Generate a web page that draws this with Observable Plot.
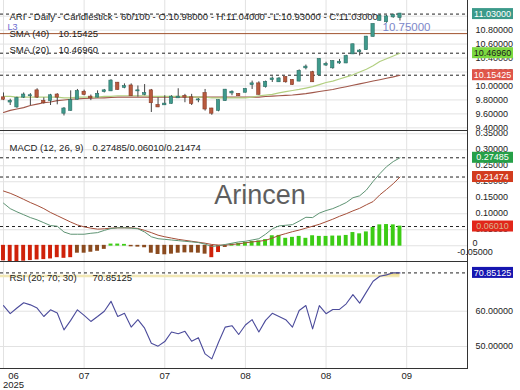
<!DOCTYPE html>
<html><head><meta charset="utf-8">
<script src="https://cdn.jsdelivr.net/npm/d3@7"></script>
<script src="https://cdn.jsdelivr.net/npm/@observablehq/plot@0.6"></script>
<style>
html,body{margin:0;padding:0;background:#fff;}
#chart{position:relative;width:520px;height:390px;overflow:hidden;}
#chart svg{display:block;overflow:hidden;}
</style></head><body><div id="chart"></div>
<script>
const FONT = "'Liberation Sans', Arial, Helvetica, sans-serif";

// ---- data ----
const header = "ARI - Daily - Candlestick - 60/100 - O:10.98000 - H:11.04000 - L:10.93000 - C:11.03000";
const open = [9.83,9.77,9.70,9.84,9.86,9.93,9.78,9.79,9.87,9.61,
 9.65,9.81,9.91,9.84,9.84,9.92,9.93,10.04,9.98,10.00,
 9.93,9.88,9.93,9.72,9.73,9.75,9.83,9.85,9.83,9.80,
 9.89,9.67,9.65,9.79,9.90,9.88,9.91,10.02,10.03,9.99,
 10.09,10.06,10.12,10.08,10.07,10.26,10.19,10.16,10.30,10.26,
 10.33,10.33,10.46,10.49,10.52,10.71,10.94,10.92,10.99,10.98];
const close = [9.81,9.78,9.82,9.87,9.86,9.84,9.76,9.86,9.84,9.67,
 9.79,9.92,9.88,9.83,9.88,9.93,10.07,9.95,9.99,9.86,
 9.93,9.89,9.76,9.70,9.74,9.84,9.84,9.84,9.75,9.80,
 9.67,9.61,9.79,9.94,9.91,9.86,9.95,10.03,9.88,10.05,
 10.10,10.10,10.06,10.02,10.21,10.27,10.06,10.38,10.31,10.35,
 10.34,10.42,10.59,10.50,10.70,10.88,11.00,10.99,11.01,11.03];
const high = [9.90,9.81,9.84,9.90,9.89,9.96,9.83,9.88,9.89,9.69,
 9.93,9.95,9.94,9.87,9.93,9.95,10.09,10.05,10.03,10.03,
 10.00,10.02,9.95,9.83,9.86,9.86,9.96,9.88,9.88,9.82,
 9.95,9.68,9.80,9.95,9.93,9.89,9.96,10.07,10.06,10.07,
 10.13,10.12,10.13,10.09,10.23,10.30,10.21,10.39,10.34,10.36,
 10.38,10.44,10.60,10.52,10.71,10.89,11.02,11.01,11.03,11.04];
const low = [9.79,9.72,9.68,9.82,9.72,9.82,9.74,9.72,9.73,9.57,
 9.64,9.80,9.86,9.79,9.83,9.90,9.92,9.94,9.96,9.85,
 9.84,9.86,9.62,9.69,9.72,9.74,9.82,9.76,9.72,9.76,
 9.64,9.58,9.63,9.78,9.86,9.85,9.90,9.95,9.87,9.97,
 10.05,10.05,10.04,10.01,10.06,10.23,10.05,10.15,10.28,10.24,
 10.31,10.32,10.45,10.43,10.51,10.70,10.93,10.90,10.97,10.93];
const sma20 = [9.85,9.85,9.84,9.84,9.84,9.84,9.84,9.84,9.84,9.83,
 9.83,9.84,9.84,9.84,9.84,9.85,9.85,9.86,9.86,9.86,
 9.86,9.86,9.85,9.85,9.85,9.85,9.85,9.85,9.84,9.84,
 9.84,9.83,9.83,9.83,9.83,9.83,9.83,9.84,9.86,9.87,
 9.88,9.90,9.92,9.935,9.95,9.97,9.99,10.02,10.05,10.07,
 10.10,10.13,10.16,10.20,10.24,10.29,10.35,10.39,10.43,10.4696];
const sma40 = [9.62,9.65,9.67,9.69,9.72,9.74,9.76,9.77,9.79,9.80,
 9.81,9.815,9.82,9.825,9.83,9.83,9.835,9.84,9.84,9.84,
 9.84,9.84,9.84,9.84,9.84,9.84,9.84,9.84,9.84,9.84,
 9.84,9.84,9.84,9.84,9.84,9.84,9.84,9.84,9.84,9.85,
 9.855,9.86,9.865,9.87,9.88,9.89,9.905,9.92,9.935,9.95,
 9.97,9.99,10.01,10.03,10.05,10.07,10.09,10.11,10.13,10.15425];
const lineL3 = 10.75;

const macdLine = [0.133,0.116,0.106,0.097,0.088,0.081,0.072,0.063,0.061,0.043,0.036,
 0.036,0.036,0.039,0.041,0.048,0.054,0.056,0.056,
 0.055,0.053,0.043,0.028,0.022,0.020,0.018,0.016,0.014,0.012,0.010,0.005,
 -0.002,0.000,0.004,
 0.008,0.012,0.014,0.018,0.022,0.036,0.053,0.062,0.064,0.066,0.077,0.089,0.088,0.102,0.110,0.116,
 0.125,0.135,0.150,0.156,0.174,0.201,0.225,0.247,0.263,0.27485];
const signalLine = [0.171,0.164,0.155,0.145,0.135,0.126,0.116,0.104,0.094,0.084,0.074,
 0.065,0.059,0.055,0.052,0.053,0.055,0.056,0.056,
 0.056,0.054,0.048,0.041,0.033,0.028,0.024,0.020,0.017,0.014,0.011,0.008,
 0.004,0.002,0.002,
 0.004,0.006,0.009,0.012,0.014,0.017,0.024,0.032,0.038,0.044,0.049,0.055,0.061,0.067,0.075,0.083,
 0.092,0.100,0.109,0.117,0.128,0.138,0.159,0.176,0.194,0.21474];
const histogram = [-0.046,-0.049,-0.050,-0.047,-0.045,-0.043,-0.042,-0.040,-0.036,-0.038,-0.036,
 -0.022,-0.022,-0.019,-0.016,-0.010,0.004,0.004,0.003,
 -0.002,-0.003,-0.005,-0.022,-0.026,-0.027,-0.025,-0.022,-0.021,-0.021,-0.022,-0.025,
 -0.036,-0.020,-0.004,
 0.004,0.006,0.009,0.012,0.014,0.018,0.030,0.031,0.022,0.025,0.028,0.022,0.030,0.028,0.028,0.029,
 0.029,0.031,0.040,0.036,0.042,0.056,0.064,0.065,0.064,0.0601];
const histTone = ["r","r","r","r","r","r","r","r","r","r","r",
 "b","b","b","b","b","g","g","g",
 "b","b","b","b","b","b","b","b","b","b","b","b",
 "r","r","b",
 "g","g","g","g","g","g","g","g","g","g","g","g","g","g","g","g",
 "g","g","g","g","g","g","g","g","g","g"];
const macdLast = [0.27485, 0.06010, 0.21474];

const rsi = [61.6,59.3,60.9,62.4,61.8,60.9,58.5,60.4,59.5,54.7,57.4,
 60.4,58.8,57.1,58.5,60.0,62.8,58.5,59.4,55.5,57.6,55.2,50.9,50.1,51.4,54.1,53.6,54.3,51.5,52.5,47.9,46.5,51.2,55.5,55.9,53.4,56.1,57.6,54.1,
 57.4,59.4,58.5,57.6,55.5,60.2,61.6,55.0,61.6,59.3,60.5,60.5,62.1,64.7,62.3,65.4,68.5,69.9,70.3,70.9,70.85125];
const rsiLevel = 70;

const xTickIndex = [0, 12, 24, 36, 48, 60];
const xTickLabels = ["06\n2025", "07", "07", "08", "08", "09"];
const priceTicks = [9.4, 9.6, 9.8, 10.0, 10.2, 10.4, 10.6, 10.8, 11.0];
const macdTicks = [0.05, 0.10, 0.15, 0.20, 0.25, 0.30, 0.35];
const macdZeroTick = 0;
const macdLowTick = -0.05;
const rsiTicks = [50, 60];

// ---- build ----
const rows = open.map((o, i) => ({
  i, open: o, high: high[i], low: low[i], close: close[i],
  sma20: sma20[i], sma40: sma40[i],
  macd: macdLine[i], signal: signalLine[i], hist: histogram[i], tone: histTone[i],
  rsi: rsi[i]
}));
const XDOM = [-0.446, 69.05];
const GRID = "#e2e2e2";
const TXT = "#222";
const toneColor = {r: "#cf2109", b: "#8a4a1e", g: "#3ccc14"};

function common(height, marginBottom) {
  return {
    width: 520, height, marginTop: 0, marginBottom, marginLeft: 0, marginRight: 53,
    style: {background: "#fff", fontFamily: FONT, fontSize: "9px", color: TXT, overflow: "hidden"},
    x: {domain: XDOM, axis: null},
    color: {type: "identity"}
  };
}
const frame = () => Plot.frame({stroke: "#333", strokeWidth: 1, insetLeft: -3, insetTop: -3});
const yLabels = (ticks, fmt, dy = 0) =>
  Plot.text(ticks, {y: d => d, frameAnchor: "right", dx: 8, dy, textAnchor: "start", text: fmt, fontSize: 9, fill: TXT});

function rightEdge(svg) { return Math.max(...svg.scale("x").range); }

function addAxisText(svg, value, label, dy) {
  const y = svg.scale("y");
  d3.select(svg).append("text")
    .attr("x", rightEdge(svg) + 8).attr("y", y.apply(value) + dy).attr("dy", "0.32em")
    .attr("fill", TXT).attr("font-size", 9).attr("font-family", FONT).text(label);
}

function addBoxes(svg, boxes) {
  const y = svg.scale("y");
  const left = rightEdge(svg) + 5;
  const g = d3.select(svg).append("g");
  for (const b of boxes) {
    const cy = y.apply(b.value);
    g.append("rect").attr("x", left).attr("y", cy - 5.5).attr("width", 41).attr("height", 11).attr("fill", b.bg);
    g.append("text").attr("x", left + 20.5).attr("y", cy).attr("dy", "0.35em")
      .attr("text-anchor", "middle").attr("fill", b.fg).attr("font-size", 9)
      .attr("font-family", FONT).text(b.value.toFixed(5));
  }
}

const main = Plot.plot({
  ...common(131, 1),
  y: {domain: [9.362, 11.2246], axis: null},
  marks: [
    Plot.gridX(xTickIndex, {stroke: GRID, strokeOpacity: 1}),
    Plot.gridY(priceTicks, {stroke: GRID, strokeOpacity: 1}),
    Plot.ruleY([lineL3], {stroke: "#a0522d", strokeWidth: 1}),
    Plot.ruleY([close[close.length - 1], sma20[sma20.length - 1], sma40[sma40.length - 1]], {stroke: "#222", strokeDasharray: "3,3"}),
    Plot.line(rows, {x: "i", y: "sma40", stroke: "#a0574a", strokeWidth: 1.1}),
    Plot.line(rows, {x: "i", y: "sma20", stroke: "#b2cf80", strokeWidth: 1.2}),
    Plot.ruleX(rows, {x: "i", y1: "low", y2: "high", stroke: "#444", strokeWidth: 1}),
    Plot.rect(rows, {
      x1: d => d.i - 0.5, x2: d => d.i + 0.5, y1: "open", y2: "close",
      insetLeft: 1.7, insetRight: 1.7, insetTop: -0.5, insetBottom: -0.5,
      fill: d => d.close >= d.open ? "#3f9a8c" : "#b85a3e",
      stroke: d => d.close >= d.open ? "#2c6f66" : "#873a26", strokeWidth: 0.6
    }),
    yLabels(priceTicks, d => d.toFixed(5)),
    Plot.text([lineL3], {y: d => d, frameAnchor: "right", dx: -85, dy: -6.5, textAnchor: "start", text: d => d.toFixed(5), fill: "#7d87c9", fontSize: 11.5}),
    Plot.text([header], {frameAnchor: "top-left", dx: 9, dy: 12.5, textAnchor: "start", fontSize: 9.5, fill: TXT}),
    Plot.text(["L3"], {frameAnchor: "top-left", dx: 7, dy: 23, textAnchor: "start", fontSize: 9, fill: "#6b6bd0"}),
    Plot.text(["SMA (40)"], {frameAnchor: "top-left", dx: 9, dy: 30, textAnchor: "start", fontSize: 9.5, fill: TXT}),
    Plot.text([sma40[sma40.length - 1]], {frameAnchor: "top-left", dx: 58, dy: 30, textAnchor: "start", fontSize: 9.5, fill: TXT, text: d => d.toFixed(5)}),
    Plot.text(["SMA (20)"], {frameAnchor: "top-left", dx: 9, dy: 46, textAnchor: "start", fontSize: 9.5, fill: TXT}),
    Plot.text([sma20[sma20.length - 1]], {frameAnchor: "top-left", dx: 58, dy: 46, textAnchor: "start", fontSize: 9.5, fill: TXT, text: d => d.toFixed(5)}),
    frame()
  ]
});
addBoxes(main, [
  {value: close[close.length - 1], bg: "#3b9a8a", fg: "#fff"},
  {value: sma20[sma20.length - 1], bg: "#7cd940", fg: "#1a1a1a"},
  {value: sma40[sma40.length - 1], bg: "#df554a", fg: "#fff"}
]);

const macd = Plot.plot({
  ...common(131, 1),
  y: {domain: [-0.0492, 0.357], axis: null},
  marks: [
    Plot.gridX(xTickIndex, {stroke: GRID, strokeOpacity: 1}),
    Plot.gridY(macdTicks.concat([macdZeroTick]), {stroke: GRID, strokeOpacity: 1}),
    Plot.ruleY(macdLast, {stroke: "#222", strokeDasharray: "3,3"}),
    Plot.text(["Arincen"], {frameAnchor: "middle", dx: 26, dy: -1, fontSize: 27, fill: "#5e5e5e"}),
    Plot.rect(rows, {
      x1: d => d.i - 0.5, x2: d => d.i + 0.5, y1: 0, y2: "hist",
      insetLeft: 1.4, insetRight: 1.4, insetTop: -0.4, insetBottom: -0.4,
      fill: d => toneColor[d.tone]
    }),
    Plot.line(rows, {x: "i", y: "signal", stroke: "#a54e38", strokeWidth: 1}),
    Plot.line(rows, {x: "i", y: "macd", stroke: "#5f9474", strokeWidth: 1}),
    yLabels(macdTicks, d => d.toFixed(5), -1),
    Plot.text(["MACD (12, 26, 9)"], {frameAnchor: "top-left", dx: 9, dy: 12.5, textAnchor: "start", fontSize: 9.5, fill: TXT}),
    Plot.text([macdLast.map(v => v.toFixed(5)).join("/")], {frameAnchor: "top-left", dx: 92, dy: 12.5, textAnchor: "start", fontSize: 9.5, fill: TXT}),
    frame()
  ]
});
addAxisText(macd, macdZeroTick, "0", -2);
addAxisText(macd, macdLowTick, macdLowTick.toFixed(5), -9.5);
addBoxes(macd, [
  {value: macdLast[0], bg: "#26a048", fg: "#fff"},
  {value: macdLast[2], bg: "#d23b1e", fg: "#fff"},
  {value: macdLast[1], bg: "#e2261a", fg: "#d9b48f"}
]);

const rsiPlot = Plot.plot({
  ...common(128, 22),
  y: {domain: [43.77, 73.8], axis: null},
  marks: [
    Plot.gridX(xTickIndex, {stroke: GRID, strokeOpacity: 1}),
    Plot.gridY(rsiTicks, {stroke: GRID, strokeOpacity: 1}),
    Plot.ruleY([rsiLevel], {x1: XDOM[0], x2: rows[rows.length - 1].i, stroke: "#f1e7b4", strokeWidth: 2.5}),
    Plot.areaY(rows, {x: "i", y1: rsiLevel, y2: d => Math.max(rsiLevel, d.rsi), fill: "#efdf96"}),
    Plot.ruleY([rsi[rsi.length - 1]], {stroke: "#222", strokeDasharray: "3,3"}),
    Plot.line(rows, {x: "i", y: "rsi", stroke: "#4b4b9b", strokeWidth: 1.1}),
    yLabels(rsiTicks, d => d.toFixed(5)),
    Plot.text(["RSI (20; 70; 30)"], {frameAnchor: "top-left", dx: 9, dy: 12, textAnchor: "start", fontSize: 9.5, fill: TXT}),
    Plot.text([rsi[rsi.length - 1].toFixed(5)], {frameAnchor: "top-left", dx: 92, dy: 12, textAnchor: "start", fontSize: 9.5, fill: TXT}),
    Plot.text(xTickIndex.slice(1), {x: d => d, frameAnchor: "bottom", dy: 3.7, lineAnchor: "top", text: (d, i) => xTickLabels[i + 1], fontSize: 9.5, fill: TXT}),
    Plot.text(xTickIndex.slice(0, 1), {x: d => d, frameAnchor: "bottom", dy: 3.7, dx: 10, lineAnchor: "top", lineHeight: 0.95, text: (d, i) => xTickLabels[i], fontSize: 9.5, fill: TXT}),
    frame()
  ]
});
addBoxes(rsiPlot, [{value: rsi[rsi.length - 1], bg: "#1616b0", fg: "#fff"}]);

const chart = document.getElementById("chart");
chart.append(main, macd, rsiPlot);
</script>
</body></html>
